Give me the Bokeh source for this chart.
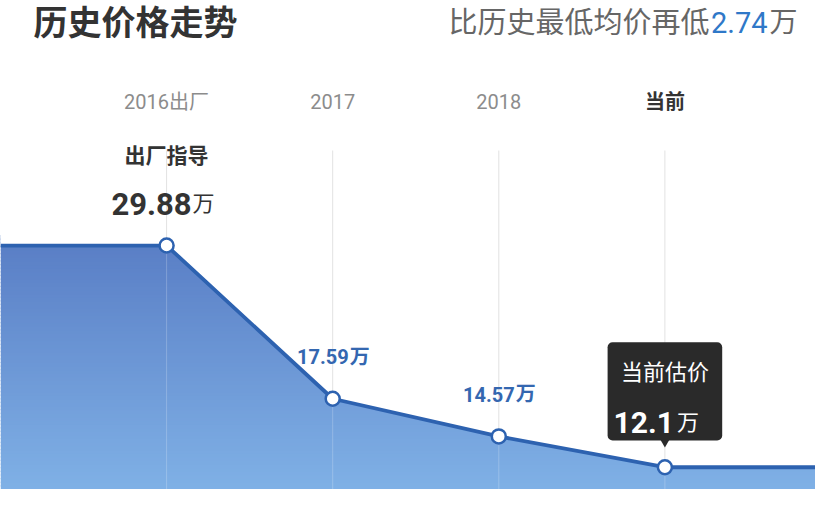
import numpy as np
from bokeh.plotting import figure
from bokeh.models import Range1d, ColumnDataSource
from bokeh.core.properties import value
from bokeh.embed import file_html
from bokeh.resources import INLINE

# ---------------- data ----------------
categories = ["2016出厂", "2017", "2018", "当前"]
prices = [29.88, 17.59, 14.57, 12.1]
price_labels = ["29.88", "17.59", "14.57", "12.1"]
unit = "万"
title_text = "历史价格走势"
sub_prefix = "比历史最低均价再低"
sub_value = "2.74"
first_caption = "出厂指导"
tip_caption = "当前估价"

# ---------------- layout (pixels of the picture) ----------------
W, H = 815, 489
CAT_PX = 166.1      # pixels per category step
VAL_PX = 12.469     # pixels per unit of price
ZERO_PX = 617.6     # pixel row where price 0 would sit

def dx(px):
    return px / CAT_PX

def dy(py):
    return (ZERO_PX - py) / VAL_PX

FONT = value("Roboto, Noto Sans CJK SC")
BLUE_LINE = "#2d62b0"
BLUE_TEXT = "#3467b0"

xr = Range1d(dx(0), dx(W))
yr = Range1d(dy(H), dy(0))

p = figure(width=W, height=H, x_range=xr, y_range=yr, output_backend="svg",
           toolbar_location=None, min_border=0, outline_line_color=None,
           background_fill_color="white", border_fill_color="white")
p.axis.visible = False
p.xgrid.visible = False
p.ygrid.visible = False

xs = list(range(1, len(categories) + 1))
xs_ext = [xr.start] + xs + [xr.end]
ys_ext = [prices[0]] + prices + [prices[-1]]

# ---- gradient background (stripes), later masked above the line ----
top_c = np.array([0x5a, 0x7f, 0xc6])
bot_c = np.array([0x82, 0xb4, 0xe8])
n = 70
edges_px = np.linspace(H, 235, n + 1)
bottoms, tops, cols = [], [], []
for i in range(n):
    b_px, t_px = edges_px[i], edges_px[i + 1]
    mid = (b_px + t_px) / 2
    f = np.clip((mid - 245) / (505 - 245), 0, 1)
    c = top_c + (bot_c - top_c) * f
    cols.append("#%02x%02x%02x" % tuple(int(round(v)) for v in c))
    bottoms.append(dy(b_px + 0.6))
    tops.append(dy(t_px - 0.6))
p.quad(left=xr.start, right=xr.end, bottom=bottoms, top=tops,
       fill_color=cols, line_color=None)

# white mask above the line
p.varea(x=xs_ext, y1=ys_ext, y2=[yr.end] * len(xs_ext), fill_color="white")

# vertical grid lines
p.segment(x0=xs, y0=prices, x1=xs, y1=[dy(150)] * len(xs),
          line_color="#e2e2e2", line_width=1)
p.segment(x0=xs, y0=[yr.start] * len(xs), x1=xs, y1=prices,
          line_color="white", line_alpha=0.22, line_width=1)

# line and points
p.line(xs_ext, ys_ext, line_color=BLUE_LINE, line_width=3.8)
p.scatter(xs, prices, size=14, fill_color="white", line_color=BLUE_LINE,
          line_width=2.5)

# ---- title & subtitle ----
p.text(x=[dx(33)], y=[dy(22)], text=[title_text], text_font=FONT,
       text_font_size="34px", text_font_style="bold", text_color="#333333",
       text_align="left", text_baseline="middle")
p.text(x=[dx(709)], y=[dy(22)], text=[sub_prefix], text_font=FONT,
       text_font_size="29px", text_color="#666666",
       text_align="right", text_baseline="middle")
p.text(x=[dx(767)], y=[dy(22)], text=[sub_value], text_font=FONT,
       text_font_size="29px", text_color="#2f78c8",
       text_align="right", text_baseline="middle")
p.text(x=[dx(797)], y=[dy(22)], text=[unit], text_font=FONT,
       text_font_size="28px", text_color="#666666",
       text_align="right", text_baseline="middle")

# ---- category labels ----
cat_src = ColumnDataSource(dict(
    x=xs, y=[dy(101)] * len(xs), t=categories,
    c=["#8c8c8c"] * (len(xs) - 1) + ["#333333"],
    s=["normal"] * (len(xs) - 1) + ["bold"]))
p.text(x="x", y="y", text="t", source=cat_src, text_color="c",
       text_font_style="s", text_font=FONT, text_font_size="20px",
       text_align="center", text_baseline="middle")

# ---- first point: caption + value ----
p.text(x=xs[:1], y=prices[:1], text=[first_caption], y_offset=-90,
       text_font=FONT, text_font_size="21px", text_font_style="bold",
       text_color="#333333", text_align="center", text_baseline="middle")
p.text(x=xs[:1], y=prices[:1], text=price_labels[:1], x_offset=25, y_offset=-42,
       text_font=FONT, text_font_size="31px", text_font_style="bold",
       text_color="#333333", text_align="right", text_baseline="alphabetic")
p.text(x=xs[:1], y=prices[:1], text=[unit], x_offset=26, y_offset=-42,
       text_font=FONT, text_font_size="22px",
       text_color="#333333", text_align="left", text_baseline="alphabetic")

# ---- middle points ----
p.text(x=xs[1:3], y=prices[1:3], text=price_labels[1:3], x_offset=16, y_offset=-42,
       text_font=FONT, text_font_size="20px", text_font_style="bold",
       text_color=BLUE_TEXT, text_align="right", text_baseline="alphabetic")
p.text(x=xs[1:3], y=prices[1:3], text=[unit] * 2, x_offset=17, y_offset=-42,
       text_font=FONT, text_font_size="20px", text_font_style="bold",
       text_color=BLUE_TEXT, text_align="left", text_baseline="alphabetic")

# ---- tooltip on the current point ----
half_w = 57.3 / CAT_PX
p.quad(left=[xs[-1] - half_w], right=[xs[-1] + half_w],
       top=[prices[-1] + 125.0 / VAL_PX], bottom=[prices[-1] + 26.7 / VAL_PX],
       fill_color="#2a2a2a", line_color=None, border_radius=5)
p.scatter(x=xs[-1:], y=[prices[-1] + 26.0 / VAL_PX], marker="inverted_triangle",
          size=11, fill_color="#2a2a2a", line_color=None)
p.text(x=xs[-1:], y=prices[-1:], text=[tip_caption], y_offset=-95,
       text_font=FONT, text_font_size="22px", text_color="white",
       text_align="center", text_baseline="middle")
p.text(x=xs[-1:], y=prices[-1:], text=price_labels[-1:], x_offset=9, y_offset=-45,
       text_font=FONT, text_font_size="30px", text_font_style="bold",
       text_color="white", text_align="right", text_baseline="alphabetic")
p.text(x=xs[-1:], y=prices[-1:], text=[unit], x_offset=12, y_offset=-45,
       text_font=FONT, text_font_size="22px",
       text_color="white", text_align="left", text_baseline="alphabetic")

open("out.html", "w").write(file_html(p, INLINE))
